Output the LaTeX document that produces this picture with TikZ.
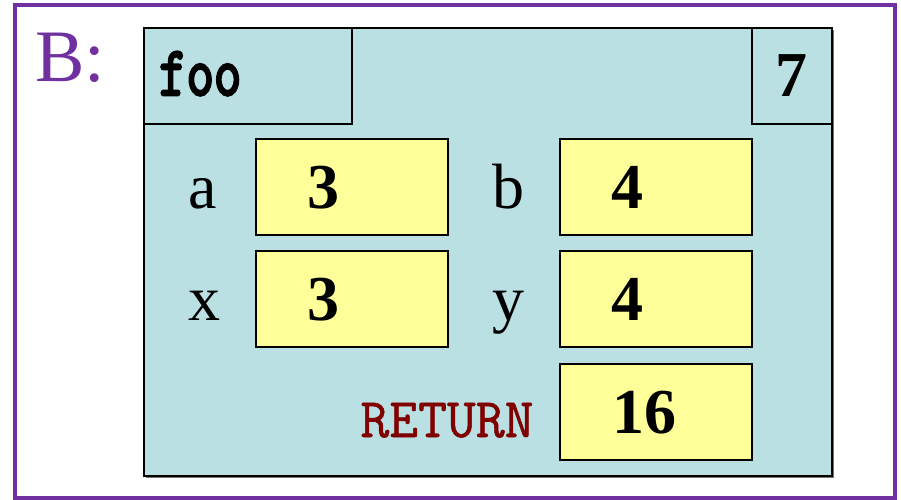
\documentclass[tikz,border=0pt]{standalone}
\usepackage{fontspec}
\setmainfont{Liberation Serif}
\newfontfamily\foomono[FakeBold=4]{Latin Modern Mono}
\newfontfamily\retmono[FakeBold=1]{Latin Modern Mono}
\definecolor{frameblue}{RGB}{187,224,228}
\definecolor{valyellow}{RGB}{255,255,153}
\definecolor{bpurple}{RGB}{112,48,160}
\definecolor{retred}{RGB}{128,0,0}
\tikzset{
  framebox/.style={draw=black, line width=2.2pt, fill=frameblue, inner sep=0pt, outer sep=0pt},
  hdrbox/.style={draw=black, line width=1.8pt, fill=frameblue, inner sep=0pt, outer sep=0pt},
  valbox/.style={draw=black, line width=1.8pt, fill=valyellow, inner sep=0pt, outer sep=0pt, minimum width=192pt, minimum height=96pt},
  varlbl/.style={font=\fontsize{64}{64}\selectfont, inner sep=0pt, anchor=base},
  vallbl/.style={font=\fontsize{64}{64}\selectfont\bfseries, inner sep=0pt, anchor=base},
}
\begin{document}
\begin{tikzpicture}[x=1pt,y=-1pt]
\useasboundingbox (0,0) rectangle (901,499);
% outer purple frame
\draw[bpurple, line width=4pt] (15,4.5) rectangle (895,497.5);
\node[text=bpurple, font=\fontsize{74}{74}\selectfont, inner sep=0pt, anchor=base west] (blabel) at (35,81) {B:};
% shadow
\fill[black!55] (146,30) rectangle (834,478);
% frame
\node[framebox, minimum width=688pt, minimum height=448pt] (frame) at (488,252) {};
\node[hdrbox, minimum width=208pt, minimum height=96pt] (namebox) at (248,76) {};
\node[hdrbox, minimum width=80pt, minimum height=96pt] (numbox) at (792,76) {};
\node[font=\foomono\fontsize{70}{70}\selectfont, inner sep=0pt, anchor=base west, xscale=0.76] (fname) at (159,95) {foo};
\node[vallbl] (fnum) at (791,96) {7};
% value boxes
\node[valbox] (boxa) at (352,187) {};
\node[valbox] (boxb) at (656,187) {};
\node[valbox] (boxx) at (352,299) {};
\node[valbox] (boxy) at (656,299) {};
\node[valbox] (boxr) at (656,412) {};
% variable names
\node[varlbl] (la) at (203,208) {a};
\node[varlbl] (lb) at (508,208) {b};
\node[varlbl] (lx) at (204,320) {x};
\node[varlbl] (ly) at (508,320) {y};
\node[text=retred, font=\retmono\fontsize{56}{56}\selectfont, inner sep=0pt, anchor=base] (lr) at (447,437) {RETURN};
% values
\node[vallbl] (va) at (323,208) {3};
\node[vallbl] (vb) at (627,208) {4};
\node[vallbl] (vx) at (323,320) {3};
\node[vallbl] (vy) at (627,320) {4};
\node[vallbl] (vr) at (644,433) {16};
\end{tikzpicture}
\end{document}
